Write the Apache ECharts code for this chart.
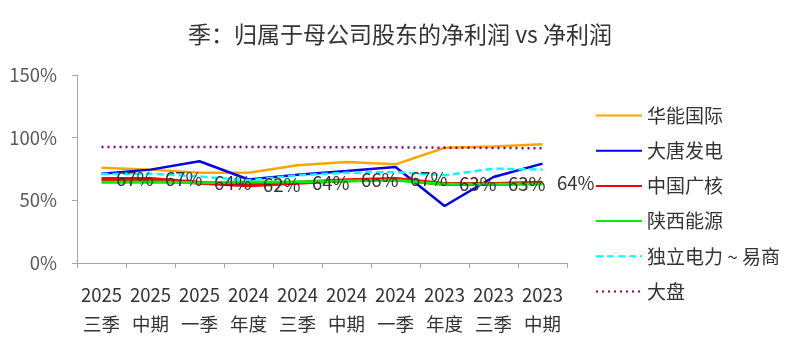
<!DOCTYPE html>
<html><head><meta charset="utf-8">
<script src="https://cdn.jsdelivr.net/npm/echarts@6/dist/echarts.min.js"></script>
<style>html,body{margin:0;padding:0;background:#fff}#c{width:800px;height:353px}</style>
</head><body><div id="c"></div>
<script>
const categories = ['2025\n三季','2025\n中期','2025\n一季','2024\n年度','2024\n三季','2024\n中期','2024\n一季','2023\n年度','2023\n三季','2023\n中期'];
const huaneng = [76, 74.5, 72, 72, 78, 80.5, 78.7, 92, 93, 94.7];
const datang = [71.3, 74.5, 81.2, 66.6, 70.5, 73.4, 76.6, 45.5, 68.6, 79.3];
const cgn = [67, 67, 64, 62, 64, 66, 67, 63, 63, 64];
const shaanxi = [64.5, 64.7, 64, 64.6, 64.6, 65.4, 66, 62.8, 62.8, 63];
const duli = [71, 71.3, 69, 66, 70, 72, 72.6, 70, 75.3, 74.5];
const dapan = [92.6, 92.6, 92.6, 92.5, 92.4, 92.4, 92.3, 92, 91.8, 91.5];
const yTicks = [0, 50, 100, 150];

const chart = echarts.init(document.getElementById('c'));
const font = '"Noto Sans CJK SC", "Noto Sans", sans-serif';
function ser(name, data, color, width, type, extra) {
  return Object.assign({
    name, type: 'line', data, symbol: 'circle', symbolSize: 1, showSymbol: true,
    lineStyle: { color, width, type: type || 'solid' },
    itemStyle: { color: 'rgba(0,0,0,0)', borderWidth: 0 }, emphasis: { disabled: true }, animation: false
  }, extra || {});
}
chart.setOption({
  animation: false,
  textStyle: { fontFamily: font },
  title: { text: '季：归属于母公司股东的净利润 vs 净利润', left: 'center', top: 18,
    textStyle: { fontFamily: font, fontSize: 23, fontWeight: 'normal', color: '#333' } },
  grid: { left: 77, right: 233, top: 75, bottom: 90 },
  legend: {
    orient: 'vertical', left: 590, top: 101, itemWidth: 46, itemHeight: 16, itemGap: 16.2,
    itemStyle: { opacity: 0 },
    textStyle: { fontFamily: font, fontSize: 19, color: '#333' },
    data: ['华能国际','大唐发电','中国广核','陕西能源','独立电力 ~ 易商','大盘']
  },
  xAxis: {
    type: 'category', data: categories, boundaryGap: true,
    axisLine: { lineStyle: { color: '#a6a6a6', width: 1 } },
    axisTick: { show: true, length: 5, lineStyle: { color: '#a6a6a6' } },
    axisLabel: { fontFamily: font, fontSize: 18.5, color: '#333', lineHeight: 29, margin: 17, interval: 0 }
  },
  yAxis: {
    type: 'value', min: yTicks[0], max: yTicks[yTicks.length-1], interval: 50,
    splitLine: { show: false },
    axisLine: { show: true, lineStyle: { color: '#a6a6a6' } },
    axisTick: { show: true, length: 5, lineStyle: { color: '#a6a6a6' } },
    axisLabel: { fontFamily: font, fontSize: 18.5, color: '#595959', formatter: '{value}%', margin: 20 }
  },
  series: [
    ser('华能国际', huaneng, '#ffa500', 2.5),
    ser('大唐发电', datang, '#0000ee', 2.5),
    ser('中国广核', cgn, '#ff0000', 4),
    ser('陕西能源', shaanxi, '#00ee00', 3),
    ser('独立电力 ~ 易商', duli, '#00ffff', 2.5, [7, 4]),
    ser('大盘', dapan, '#800080', 2.5, [2, 4]),
    ser('中国广核标签', cgn, 'rgba(0,0,0,0)', 0, 'solid', {
      z: 20, lineStyle: { opacity: 0, width: 0 },
      label: { show: true, position: 'right', distance: 14, formatter: p => Math.round(p.value) + '%',
        fontFamily: font, fontSize: 18.5, color: '#333' } })
  ]
});
</script></body></html>
